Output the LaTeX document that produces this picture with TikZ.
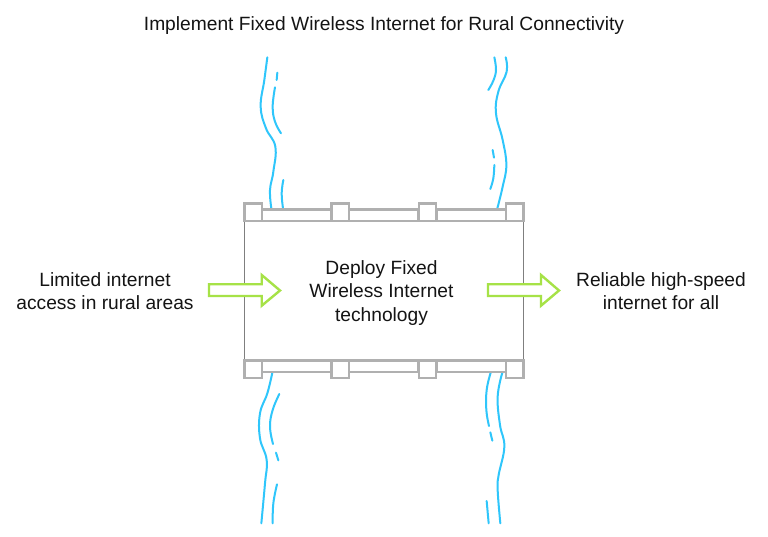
\documentclass[tikz,border=0pt]{standalone}
\usepackage{fontspec}
\setmainfont{Liberation Sans}
\definecolor{railgray}{HTML}{B0B0B0}
\definecolor{boxgray}{HTML}{7F7F7F}
\definecolor{wavecyan}{HTML}{2FC6FB}
\definecolor{arrowgreen}{HTML}{A6E247}
\definecolor{inktext}{HTML}{141414}
\tikzset{
  label text/.style={font=\fontsize{19.2}{23.3}\selectfont,text=inktext,align=center,inner sep=0pt},
  rail/.style={draw=railgray,line width=2.1pt,fill=white},
  wave/.style={draw=wavecyan,line width=2pt,line cap=round},
  soft/.style={smooth,tension=0.7},
  block arrow/.style={draw=arrowgreen,line width=2.4pt,fill=white,line join=miter},
  zoomtop/.style={shift={(230,50)},x=0.33333pt,y=-0.33333pt},
  zoombottom/.style={shift={(230,350)},x=0.33333pt,y=-0.33333pt}
}
\begin{document}
\begin{tikzpicture}[x=1pt,y=-1pt]
\useasboundingbox (0,0) rectangle (768,537);
\fill[white] (0,0) rectangle (768,537);
% main box
\draw[draw=boxgray,line width=1.8pt,fill=white] (244.5,221) rectangle (523.5,360);
% waves
\begin{scope}[zoomtop]
\draw[wave] plot[soft] coordinates {(112,22) (103,90) (92,170) (108,235) (136,290) (130,365) (120,420) (124,475)};
\draw[wave] (142,68) -- (140,90);
\draw[wave] plot[soft] coordinates {(135,112) (128,170) (135,215) (153,250)};
\draw[wave] plot[soft] coordinates {(160,390) (155,430) (159,475)};
\draw[wave] plot[soft] coordinates {(793,22) (798,60) (790,92) (775,120)};
\draw[wave] plot[soft] coordinates {(827,22) (830,65) (805,125) (798,190) (818,270) (829,345) (818,410) (802,475)};
\draw[wave] (788,300) -- (792,323);
\draw[wave] plot[soft] coordinates {(793,345) (790,385) (781,417)};
\end{scope}
\begin{scope}[zoombottom]
\draw[wave] plot[soft] coordinates {(127,68) (112,130) (90,190) (90,265) (110,330) (105,400) (94,520)};
\draw[wave] plot[soft] coordinates {(148,132) (128,180) (120,230) (129,282)};
\draw[wave] (138,308) -- (145,331);
\draw[wave] plot[soft] coordinates {(141,403) (130,460) (128,520)};
\draw[wave] plot[soft] coordinates {(782,68) (770,120) (769,180) (777,228)};
\draw[wave] (781,247) -- (787,272);
\draw[wave] plot[soft] coordinates {(817,68) (803,140) (810,225) (823,290) (806,375) (803,420) (811,520)};
\draw[wave] (770,453) -- (776,520);
\end{scope}
% top rail
\draw[rail] (262,209.5) rectangle (331,221);
\draw[rail] (349,209.5) rectangle (418.5,221);
\draw[rail] (436.5,209.5) rectangle (506,221);
\foreach \sq in {244.5,331.5,418.8,506}{
  \draw[rail] (\sq,203.5) rectangle ++(17.5,17.5);
}
% bottom rail
\draw[rail] (262,360.5) rectangle (331,372);
\draw[rail] (349,360.5) rectangle (418.5,372);
\draw[rail] (436.5,360.5) rectangle (506,372);
\foreach \sq in {244.5,331.5,418.8,506}{
  \draw[rail] (\sq,360.5) rectangle ++(17.5,17.5);
}
% arrows
\draw[block arrow] (209,284.3) -- (261.7,284.3) -- (261.7,275) -- (280,290.5) -- (261.7,305.7) -- (261.7,296) -- (209,296) -- cycle;
\draw[block arrow] (488,284.3) -- (541,284.3) -- (541,275) -- (559,290.5) -- (541,305.7) -- (541,296) -- (488,296) -- cycle;
% text
\node[label text] (title) at (384,25.5) {Implement Fixed Wireless Internet for Rural Connectivity};
\node[label text] (inlabel) at (105,291) {Limited internet\\access in rural areas};
\node[label text] (midlabel) at (381.5,293) {Deploy Fixed\\Wireless Internet\\technology};
\node[label text] (outlabel) at (661,291) {Reliable high-speed\\internet for all};
\end{tikzpicture}
\end{document}
